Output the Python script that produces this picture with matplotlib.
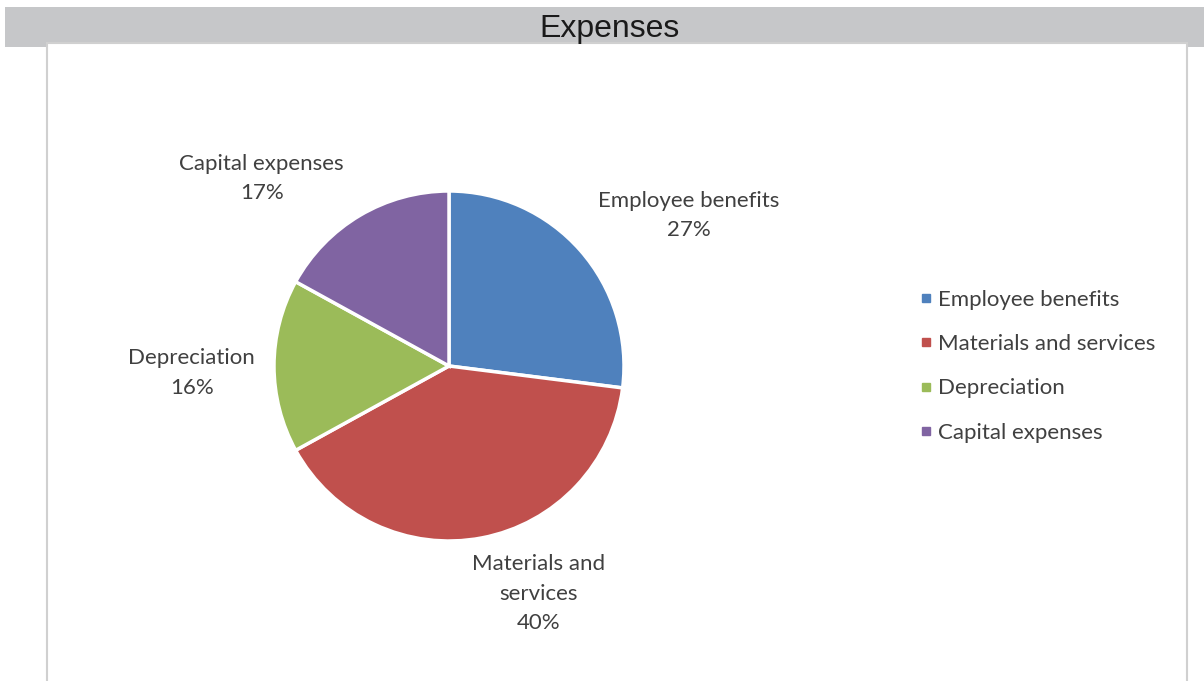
import matplotlib.pyplot as plt
from matplotlib.patches import Rectangle
from matplotlib.lines import Line2D

# Datos del grafico
categorias = ['Employee benefits', 'Materials and services', 'Depreciation', 'Capital expenses']
etiquetas = ['Employee benefits', 'Materials and\nservices', 'Depreciation', 'Capital expenses']
porcentajes = [27, 40, 16, 17]
colores = ['#4F81BD', '#C0504D', '#9BBB59', '#8064A2']

# posicion de las etiquetas (relativa al centro, en radios)
pos_etiquetas = [(1.37, 0.86), (0.51, -1.30), (-1.47, -0.04), (-1.07, 1.07)]

W, H = 1204, 681
fig = plt.figure(figsize=(W / 100, H / 100), dpi=100)
fig.patch.set_facecolor('white')

# barra gris del titulo y panel blanco
fig.patches.append(Rectangle((5 / W, 1 - 47 / H), 1 - 5 / W, 40 / H,
                             transform=fig.transFigure, facecolor='#C6C7C9',
                             edgecolor='none', zorder=-3))
fig.patches.append(Rectangle((47 / W, -0.05), (1187 - 47) / W, 1 - 43 / H + 0.05,
                             transform=fig.transFigure, facecolor='white',
                             edgecolor='#D0D0D0', linewidth=1.5, zorder=-2))
fig.text(610 / W, 1 - 29 / H, 'Expenses', ha='center', va='center',
         fontsize=23, family='Liberation Sans', color='#1a1a1a')

cx, cy, r = 449, 366, 175
ax = fig.add_axes([(cx - r) / W, (H - cy - r) / H, 2 * r / W, 2 * r / H])
ax.set_zorder(2)
ax.pie(porcentajes, colors=colores, startangle=90, counterclock=False,
       wedgeprops=dict(edgecolor='white', linewidth=2.5))
ax.set_xlim(-1, 1)
ax.set_ylim(-1, 1)
ax.set_aspect('equal')
ax.axis('off')

for et, p, (x, y) in zip(etiquetas, porcentajes, pos_etiquetas):
    ax.text(x, y, et + '\n' + str(p) + '%', ha='center', va='center',
            fontsize=16, family='Lato', color='#404040', linespacing=1.58,
            clip_on=False)

handles = [Line2D([], [], marker='s', linestyle='none', markersize=6,
                  markerfacecolor=c, markeredgecolor=c) for c in colores]
leg = fig.legend(handles, categorias, loc='upper left', bbox_to_anchor=(910 / W, 1 - 281 / H),
                 frameon=False, prop={'family': 'Lato', 'size': 16}, labelcolor='#404040',
                 handlelength=0.6, handletextpad=0.25, labelspacing=1.09, borderaxespad=0)
leg.set_zorder(3)

fig.savefig('out.png', dpi=100)
